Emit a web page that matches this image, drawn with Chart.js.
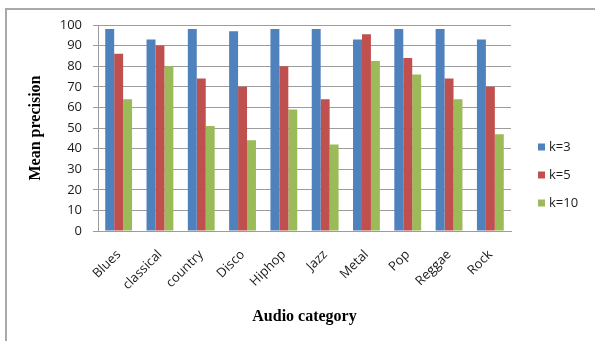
<!DOCTYPE html>
<html>
<head>
<meta charset="utf-8">
<script src="https://cdn.jsdelivr.net/npm/chart.js@4.4.1/dist/chart.umd.min.js"></script>
<style>
  html, body { margin: 0; padding: 0; background: #fff; overflow: hidden; }
  #wrap { position: relative; width: 595px; height: 341px; }
  #frame { position: absolute; left: 5px; top: 8px; width: 700px; height: 500px;
           border-top: 2px solid #a9a9a9; border-left: 2px solid #a9a9a9; }
  canvas { position: absolute; left: 0; top: 0; }
</style>
</head>
<body>
<div id="wrap">
  <div id="frame"></div>
  <canvas id="c" width="595" height="341"></canvas>
</div>
<script>
// Audio categories and mean precision for each k
const categories = ['Blues', 'classical', 'country', 'Disco', 'Hiphop', 'Jazz', 'Metal', 'Pop', 'Reggae', 'Rock'];
const k3  = [98, 93, 98, 97, 98, 98, 93,   98, 98, 93];
const k5  = [86, 90, 74, 70, 80, 64, 95.5, 84, 74, 70];
const k10 = [64, 80, 51, 44, 59, 42, 82.5, 76, 64, 47];
const seriesLabels = ['k=3', 'k=5', 'k=10'];
const seriesColors = ['#4F81BD', '#C0504D', '#9BBB59'];
const yMin = 0, yMax = 100, yStep = 10;

const tickFont = { family: '"Open Sans", sans-serif', size: 13 };
const titleFont = { family: '"Liberation Serif", "Times New Roman", serif', size: 16, weight: 'bold' };
const gridColor = '#9c9c9c';

// Legend on the right, drawn from the datasets
const sideLegend = {
  id: 'sideLegend',
  afterDraw(chart) {
    const ctx = chart.ctx;
    const x0 = chart.chartArea.right + 27;
    ctx.save();
    ctx.font = '13px "Open Sans", sans-serif';
    ctx.textBaseline = 'middle';
    ctx.textAlign = 'left';
    chart.data.datasets.forEach((ds, i) => {
      const y = 147 + i * 28;
      ctx.fillStyle = ds.backgroundColor;
      ctx.fillRect(x0, y - 3.5, 7, 7);
      ctx.fillStyle = '#1a1a1a';
      ctx.fillText(ds.label, x0 + 11, y);
    });
    ctx.restore();
  }
};

const seriesData = [k3, k5, k10];

new Chart(document.getElementById('c'), {
  type: 'bar',
  data: {
    labels: categories,
    datasets: seriesLabels.map((label, i) => ({
      label: label,
      data: seriesData[i],
      backgroundColor: seriesColors[i],
      borderWidth: 0,
      categoryPercentage: 0.65,
      barPercentage: 1.0
    }))
  },
  options: {
    responsive: false,
    animation: false,
    layout: { padding: { left: 0, right: 84, top: 25, bottom: 0 } },
    plugins: {
      legend: { display: false },
      tooltip: { enabled: false }
    },
    scales: {
      x: {
        grid: { display: false, drawTicks: false },
        border: { display: true, color: gridColor, width: 1 },
        ticks: { font: tickFont, color: '#1a1a1a', minRotation: 45, maxRotation: 45, padding: 16 },
        title: { display: true, text: 'Audio category', font: titleFont, color: '#000', padding: { top: 0, bottom: 15 } },
        afterFit(scale) { scale.height = 110; }
      },
      y: {
        min: yMin, max: yMax,
        grid: { color: gridColor, lineWidth: 1, tickLength: 5, drawTicks: true },
        border: { display: true, color: gridColor, width: 1 },
        ticks: { stepSize: yStep, font: tickFont, color: '#1a1a1a', padding: 11 },
        title: { display: true, text: 'Mean precision', font: titleFont, color: '#000', padding: { top: 26, bottom: 0 } },
        afterFit(scale) { scale.width = 98; }
      }
    }
  },
  plugins: [sideLegend]
});
</script>
</body>
</html>
